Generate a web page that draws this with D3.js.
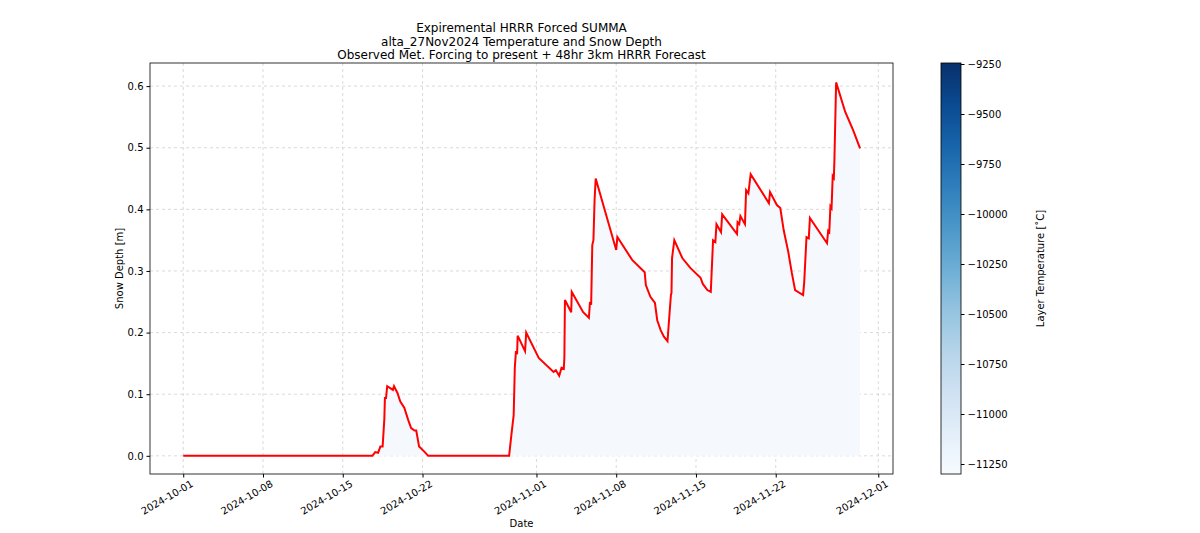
<!DOCTYPE html>
<html><head><meta charset="utf-8">
<script src="https://cdn.jsdelivr.net/npm/d3@7"></script>
<style>body{margin:0;background:#fff;font-family:"DejaVu Sans",sans-serif;}</style>
</head><body>
<svg id="chart" width="1200" height="533"></svg>
<script>
// Days since 2024-10-01 and snow depth [m]
var dayOffsets = [0,16.6,16.85,17.1,17.3,17.5,17.65,17.7,17.8,17.9,18.4,18.5,18.8,19.05,19.4,19.75,20.0,20.3,20.45,20.7,21.2,21.5,
  28.6,28.8,29.0,29.1,29.2,29.3,29.35,30.0,30.1,31.2,32.5,32.7,33.0,33.2,33.4,33.45,33.5,34.05,34.1,35.1,35.6,35.7,35.8,35.9,36.0,36.1,36.2,
  38.0,38.1,39.4,40.5,40.6,41.0,41.4,41.6,41.9,42.2,42.5,42.8,42.85,42.9,43.1,43.8,44.5,45.4,45.6,46.0,46.3,46.5,46.7,46.8,47.2,47.3,
  48.6,48.65,48.8,48.9,49.3,49.4,49.6,49.8,51.4,51.5,52.1,52.4,52.7,53.1,53.4,53.7,54.4,54.5,54.7,54.9,55.0,
  56.5,56.6,56.7,56.8,56.9,57.0,57.1,57.15,57.3,58.1,58.8,59.4];
var snowDepth = [0,0,0.006,0.005,0.015,0.015,0.06,0.094,0.094,0.113,0.107,0.113,0.102,0.088,0.078,0.058,0.045,0.041,0.041,0.015,0.006,0,
  0,0.034,0.066,0.143,0.17,0.165,0.195,0.17,0.2,0.159,0.136,0.139,0.13,0.143,0.141,0.159,0.253,0.233,0.266,0.233,0.224,0.25,0.245,0.342,0.35,0.415,0.45,
  0.334,0.355,0.318,0.298,0.277,0.258,0.248,0.22,0.204,0.193,0.186,0.261,0.264,0.321,0.35,0.321,0.305,0.289,0.279,0.269,0.266,0.35,0.347,0.376,0.363,0.392,
  0.36,0.379,0.376,0.389,0.376,0.431,0.426,0.457,0.41,0.428,0.407,0.402,0.366,0.331,0.298,0.269,0.261,0.282,0.355,0.353,0.386,
  0.345,0.365,0.363,0.405,0.402,0.454,0.451,0.48,0.606,0.558,0.528,0.499];
var xTickDates = ["2024-10-01","2024-10-08","2024-10-15","2024-10-22","2024-11-01","2024-11-08","2024-11-15","2024-11-22","2024-12-01"];
var yTicks = [0.0,0.1,0.2,0.3,0.4,0.5,0.6];
var cbTicks = [-9250,-9500,-9750,-10000,-10250,-10500,-10750,-11000,-11250];
var titleLines = ["Expiremental HRRR Forced SUMMA","alta_27Nov2024 Temperature and Snow Depth","Observed Met. Forcing to present + 48hr 3km HRRR Forecast"];

var start = new Date(2024,9,1);
var data = dayOffsets.map(function(d,i){ return {date:start.getTime()+d*864e5, v:snowDepth[i]}; });
var parse = d3.timeParse("%Y-%m-%d");
var xt = xTickDates.map(parse);

var svg = d3.select("#chart");
var L=150,R=893,T=63,B=474;
var x = d3.scaleTime().domain([new Date(2024,8,28,2), new Date(2024,11,2,7)]).range([L,R]);
var y = d3.scaleLinear().domain([-0.0295,0.6375]).range([B,T]);

// grid
svg.append("g").selectAll("line").data(xt).join("line")
  .attr("x1",d=>x(d)).attr("x2",d=>x(d)).attr("y1",T).attr("y2",B)
  .attr("stroke","#d0d0d0").attr("stroke-dasharray","3,3").attr("stroke-width",0.8);
svg.append("g").selectAll("line").data(yTicks).join("line")
  .attr("x1",L).attr("x2",R).attr("y1",d=>y(d)).attr("y2",d=>y(d))
  .attr("stroke","#d0d0d0").attr("stroke-dasharray","3,3").attr("stroke-width",0.8);

// fill + line
svg.append("path").datum(data).attr("fill","#f5f9fe")
  .attr("d",d3.area().x(d=>x(d.date)).y0(y(0)).y1(d=>y(d.v)));
svg.append("path").datum(data).attr("fill","none").attr("stroke","red").attr("stroke-width",2)
  .attr("d",d3.line().x(d=>x(d.date)).y(d=>y(d.v)));

svg.append("rect").attr("x",L).attr("y",T).attr("width",R-L).attr("height",B-T)
  .attr("fill","none").attr("stroke","#000").attr("stroke-width",0.8);

// axes
var xa = svg.append("g").attr("transform","translate(0,"+B+")")
  .call(d3.axisBottom(x).tickValues(xt).tickFormat(d3.timeFormat("%Y-%m-%d")).tickSizeOuter(0).tickSize(3.5));
xa.select(".domain").remove();
xa.selectAll("text").attr("font-size",10).attr("font-family","DejaVu Sans")
  .attr("text-anchor","end").attr("dx","0.3em").attr("dy","0.9em")
  .attr("transform","rotate(-30)");
var ya = svg.append("g").attr("transform","translate("+L+",0)")
  .call(d3.axisLeft(y).tickValues(yTicks).tickFormat(d3.format(".1f")).tickSize(3.5));
ya.select(".domain").remove();
ya.selectAll("text").attr("font-size",10).attr("font-family","DejaVu Sans");

svg.append("text").attr("x",(L+R)/2).attr("y",527).attr("text-anchor","middle").attr("font-size",10).text("Date");
svg.append("text").attr("transform","translate(123,"+((T+B)/2)+") rotate(-90)").attr("text-anchor","middle").attr("font-size",10).text("Snow Depth [m]");

svg.append("g").selectAll("text").data(titleLines).join("text")
  .attr("x",(L+R)/2).attr("y",(d,i)=>32+i*13.5).attr("text-anchor","middle").attr("font-size",12).text(d=>d);

// colorbar
var cbL=941,cbW=20;
var c = d3.scaleLinear().domain([-11300,-9245]).range([B,T]);
var grad = svg.append("defs").append("linearGradient").attr("id","cb").attr("x1",0).attr("x2",0).attr("y1",1).attr("y2",0);
d3.range(0,1.01,0.1).forEach(function(t){ grad.append("stop").attr("offset",t).attr("stop-color",d3.interpolateBlues(t)); });
svg.append("rect").attr("x",cbL).attr("y",T).attr("width",cbW).attr("height",B-T).attr("fill","url(#cb)").attr("stroke","#000").attr("stroke-width",0.8);
var ca = svg.append("g").attr("transform","translate("+(cbL+cbW)+",0)")
  .call(d3.axisRight(c).tickValues(cbTicks).tickFormat(d=>"\u2212"+Math.abs(d)).tickSize(3.5));
ca.select(".domain").remove();
ca.selectAll("text").attr("font-size",10).attr("font-family","DejaVu Sans");
svg.append("text").attr("transform","translate(1044,"+((T+B)/2)+") rotate(-90)").attr("text-anchor","middle").attr("font-size",10).text("Layer Temperature [\u02daC]");
</script>
</body></html>
